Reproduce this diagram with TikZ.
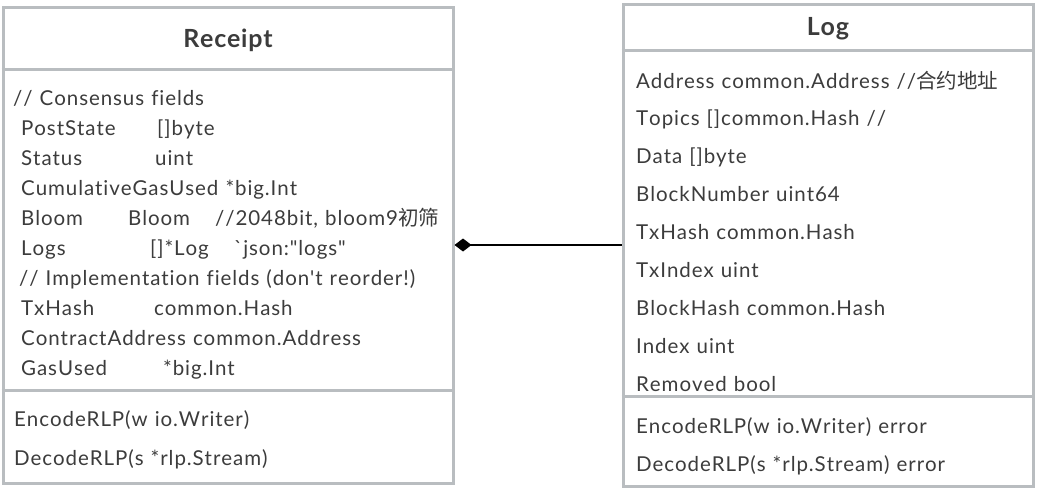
\documentclass[tikz,border=0pt]{standalone}
\usepackage{fontspec}
\setmainfont{Lato}[Ligatures={TeXOff,NoCommon}, WordSpace=1.15, LetterSpace=4.5, Kerning=Off]
\newfontfamily\titlefont{Lato}[Ligatures={TeXOff,NoCommon}, LetterSpace=3, Kerning=Off]
\newfontfamily\cjk{Noto Sans CJK SC}
\usepackage{tikz}
\usetikzlibrary{arrows.meta,positioning}
\definecolor{box_gray}{HTML}{B9BDC0}
\definecolor{text_gray}{HTML}{3C3C3C}

\tikzset{
    classbox/.style={draw=box_gray, line width=3pt, fill=white, inner sep=0pt},
    sepline/.style={draw=box_gray, line width=3pt},
    classname/.style={font=\titlefont\fontsize{25}{30}\selectfont\bfseries, text=text_gray, inner sep=0pt},
    member/.style={anchor=base west, inner sep=0pt, font=\fontsize{20.5}{24}\selectfont, text=text_gray},
}
\newcommand{\tabcol}[2]{\makebox[#1pt][l]{#2}}

\begin{document}
\begin{tikzpicture}[x=1pt,y=-1pt]

    \useasboundingbox (0,0) rectangle (1038,490);

    % Les deux boites
    \node[classbox, minimum width=450pt, minimum height=476pt] (receipt) at (228,245) {};
    \node[classbox, minimum width=410pt, minimum height=482pt] (log) at (828,245) {};

    % Separations entre nom, champs et methodes
    \draw[sepline] (receipt.north west) ++(0,64) -- ++(450,0);
    \draw[sepline] (receipt.north west) ++(0,385) -- ++(450,0);
    \draw[sepline] (log.north west) ++(0,48) -- ++(410,0);
    \draw[sepline] (log.north west) ++(0,394) -- ++(410,0);

    % Noms des classes
    \node[classname] (receipt-name) at (228,40) {Receipt};
    \node[classname] (log-name) at (828,29) {Log};

    % Champs de Receipt
    \foreach \dx/\txt [count=\i] in {
        0/{// Consensus fields},
        8/{\tabcol{136}{PostState}[]byte},
        8/{\tabcol{134}{Status}uint},
        8/{CumulativeGasUsed *big.Int},
        8/{\tabcol{107}{Bloom}\tabcol{87}{Bloom}//2048bit, bloom9{\cjk 初筛}},
        8/{\tabcol{129}{Logs}\tabcol{84}{[]*Log}`json:"logs"},
        6/{// Implementation fields (don't reorder!)},
        8/{\tabcol{133}{TxHash}common.Hash},
        8/{ContractAddress common.Address},
        8/{\tabcol{142}{GasUsed}*big.Int}}
        \node[member] (receipt-f\i) at (13+\dx,105+30.1*\i-30.1) {\txt};

    % Methodes de Receipt
    \node[member] (receipt-m1) at (14,426) {EncodeRLP(w io.Writer)};
    \node[member] (receipt-m2) at (14,465) {DecodeRLP(s *rlp.Stream)};

    % Champs de Log
    \foreach \txt [count=\i] in {
        {Address common.Address //{\cjk 合约地址}},
        {Topics []common.Hash //},
        {Data []byte},
        {BlockNumber uint64},
        {TxHash common.Hash},
        {TxIndex uint},
        {BlockHash common.Hash},
        {Index uint},
        {Removed bool}}
        \node[member] (log-f\i) at (636,88+37.9*\i-37.9) {\txt};

    % Methodes de Log
    \node[member] (log-m1) at (636,433) {EncodeRLP(w io.Writer) error};
    \node[member] (log-m2) at (636,471) {DecodeRLP(s *rlp.Stream) error};

    % Composition Receipt <>-- Log
    \draw[line width=2pt, -{Diamond[length=17pt,width=13pt]}] (log.west) -- (receipt.east);
\end{tikzpicture}
\end{document}
